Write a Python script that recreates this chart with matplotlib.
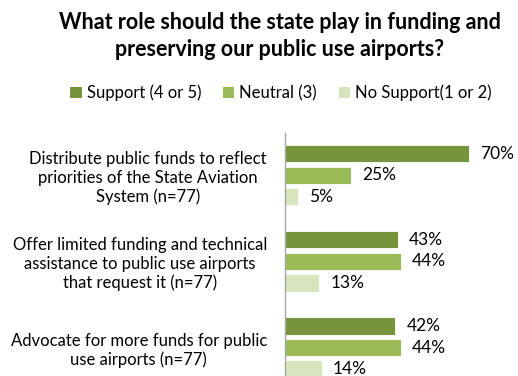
import matplotlib
matplotlib.use("Agg")
import matplotlib.pyplot as plt
from matplotlib.patches import Patch

plt.rcParams['font.family'] = ['Lato', 'DejaVu Sans']

title = "What role should the state play in funding and\npreserving our public use airports?"
categories = [
    "Distribute public funds to reflect\npriorities of the State Aviation\nSystem (n=77)",
    "Offer limited funding and technical\nassistance to public use airports\nthat request it (n=77)",
    "Advocate for more funds for public\nuse airports (n=77)",
]
series_names = ["Support (4 or 5)", "Neutral (3)", "No Support(1 or 2)"]
support = [70, 43, 42]
neutral = [25, 44, 44]
no_support = [5, 13, 14]
colors = ["#77933C", "#9BBB59", "#D7E4BD"]

W, H = 518, 376
fig = plt.figure(figsize=(W / 100, H / 100), dpi=100)
ax = fig.add_axes([285 / W, 0, 231 / W, (376 - 133) / H])

series = [support, neutral, no_support]
offsets = [-0.25, 0.0, 0.25]
for vals, off, col in zip(series, offsets, colors):
    ys = [i + off for i in range(len(categories))]
    ax.barh(ys, vals, height=0.2, color=col, edgecolor="white", linewidth=0.6)
    for y, v in zip(ys, vals):
        ax.text(v + 4.3, y, f"{v}%", va="center", ha="left", fontsize=12.5, color="#000000")

ax.set_xlim(0, 88)
ax.set_ylim(2.33, -0.49)
ax.set_yticks(range(len(categories)))
ax.set_yticklabels(categories, fontsize=12, multialignment="center")
ax.tick_params(axis="y", length=0, pad=13)
ax.set_xticks([])
for s in ["top", "right", "bottom"]:
    ax.spines[s].set_visible(False)
ax.spines["left"].set_color("#A6A6A6")
ax.spines["left"].set_linewidth(1.0)

fig.text(280 / W, 1 - 36 / H, title, ha="center", va="center", fontsize=15.5,
         fontweight="bold", linespacing=1.35)

handles = [Patch(facecolor=c, edgecolor="none") for c in colors]
fig.legend(handles, series_names, loc="center", bbox_to_anchor=(281 / W, 1 - 93 / H),
           ncol=3, frameon=False, fontsize=12, handlelength=0.7, handleheight=0.7,
           handletextpad=0.3, columnspacing=1.3)

fig.savefig("out.png", dpi=100)
